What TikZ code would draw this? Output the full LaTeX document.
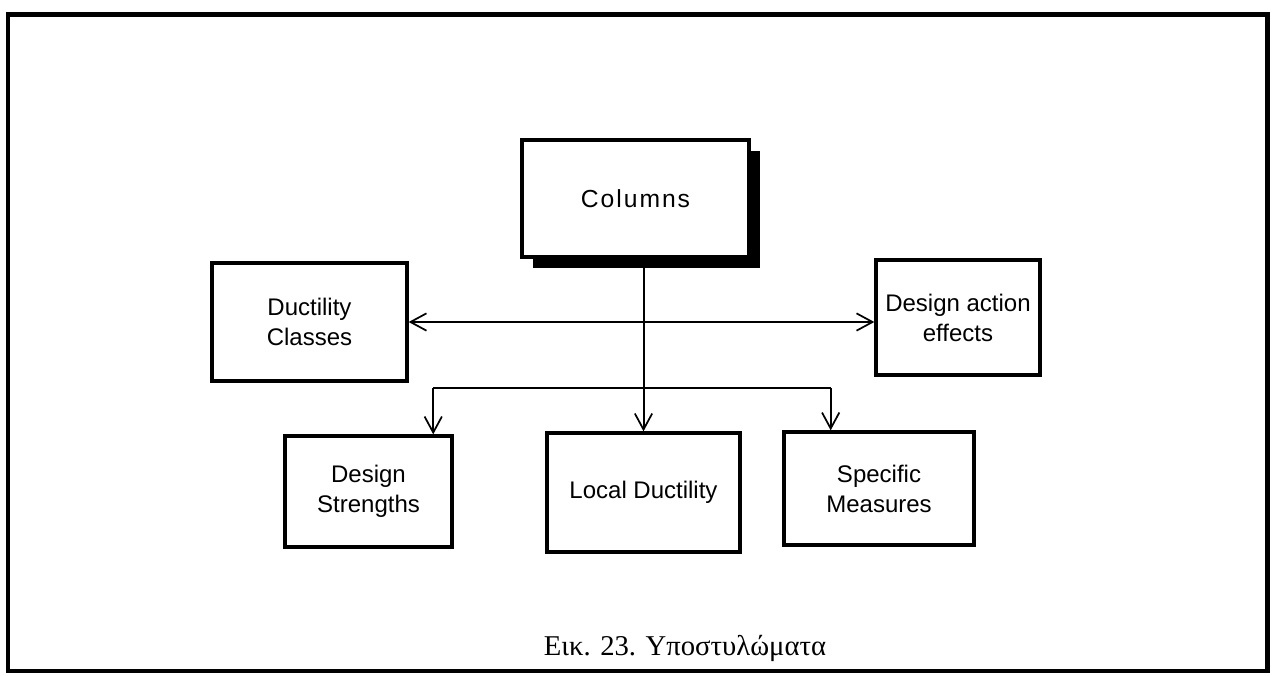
\documentclass[tikz,border=0pt]{standalone}
\usepackage{fontspec}
\setmainfont{Liberation Sans}
\newfontfamily\widesans[LetterSpace=8]{Liberation Sans}
\newfontfamily\capfont{Liberation Serif}
\usetikzlibrary{arrows.meta,calc,shadows}

\begin{document}
\begin{tikzpicture}[x=0.75pt,y=-0.75pt,
  box/.style={draw,line width=2.5pt,fill=white,inner sep=0pt,align=center,
              font=\fontsize{18}{22.5}\selectfont},
  conn/.style={line width=1.5pt},
  barb/.tip={Straight Barb[length=12pt,width=13pt,line width=1.3pt]},
  tip/.style={-barb},
  shadowed/.style={drop shadow={opacity=1,fill=black,shadow xshift=8.5pt,shadow yshift=-8.5pt}}]
\useasboundingbox (0,0) rectangle (1276,675);

% outer frame
\draw[line width=3.3pt] (8,14.5) rectangle (1267.5,671);

% boxes
\node[box,shadowed,minimum width=170.25pt,minimum height=87.75pt,
      font=\widesans\fontsize{18.5}{22.5}\selectfont] (cols) at (635.5,198.5) {Columns};
\node[box,minimum width=146.25pt,minimum height=88.5pt] (dc) at (309.5,322) {Ductility\\Classes};
\node[box,minimum width=123pt,minimum height=86.25pt] (da) at (958,317.5) {Design action\\effects};
\node[box,minimum width=125.25pt,minimum height=83.25pt] (ds) at (368.5,491.5) {Design\\Strengths};
\node[box,minimum width=144.75pt,minimum height=89.25pt] (ld) at (643.5,492.5) {Local Ductility};
\node[box,minimum width=142.5pt,minimum height=84.75pt] (sm) at (879,488.5) {Specific\\Measures};

% attachment points on the lower boxes
\coordinate (dsin) at ($(ds.north west)!0.88!(ds.north east)$);
\coordinate (smin) at ($(sm.north west)!0.25!(sm.north east)$);
\coordinate (fork) at (645,388);

% connectors
\draw[conn,barb-barb] (dc.east) -- (dc.east -| da.west);
\draw[conn,tip] (cols.south -| ld.north) -- (ld.north);
\draw[conn,tip] (fork -| dsin) -- (dsin);
\draw[conn,tip] (fork -| smin) -- (smin);
\draw[conn] (fork -| dsin) -- (fork -| smin);

% caption
\node[anchor=base,font=\capfont\fontsize{21.5}{26}\selectfont,inner sep=0pt] (cap) at (685,655)
  {Εικ. 23. Υποστυλώματα};
\end{tikzpicture}
\end{document}
